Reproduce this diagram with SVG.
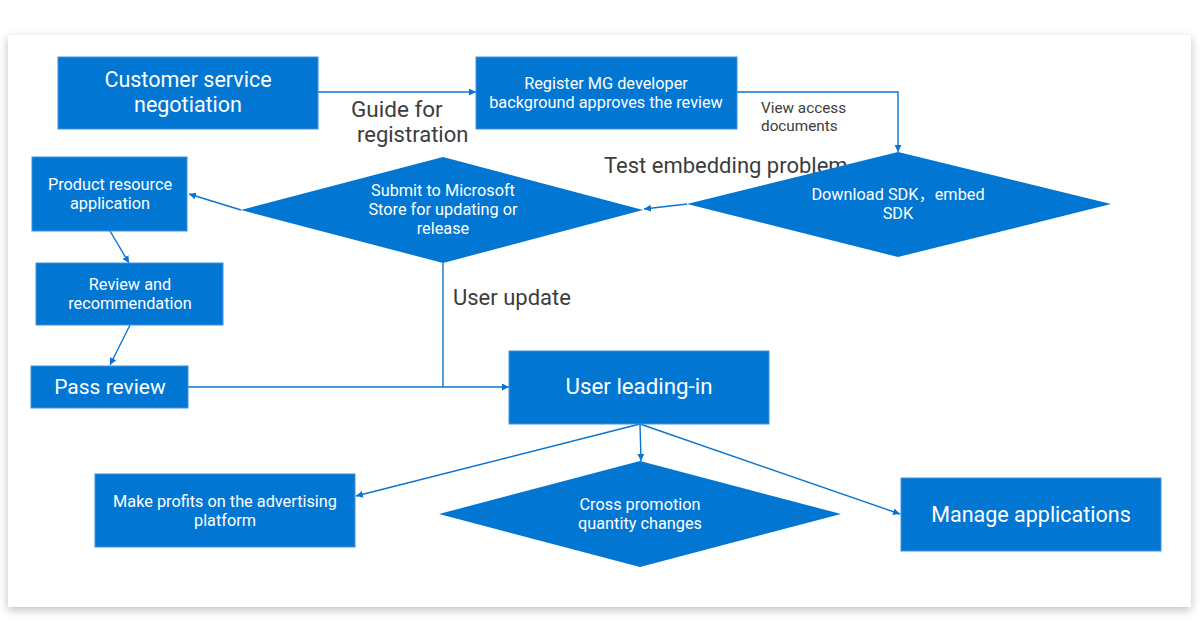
<svg xmlns="http://www.w3.org/2000/svg" width="1200" height="642" viewBox="0 0 1200 642">
<defs>
<filter id="sh" x="-5%" y="-5%" width="110%" height="115%">
<feDropShadow dx="0" dy="3" stdDeviation="5" flood-color="#000" flood-opacity="0.25"/>
</filter>
<marker id="ah" viewBox="0 0 10 10" refX="10" refY="5" markerWidth="7" markerHeight="7" markerUnits="userSpaceOnUse" orient="auto">
<path d="M0,0 L10,5 L0,10 z" fill="#0a74d0"/>
</marker>
<style>
.box{fill:#0176d3;stroke:#3f93e0;stroke-width:1}
.dia{fill:#0176d3}
.t{font-family:Roboto,"Noto Sans CJK SC",sans-serif;fill:#fff;text-anchor:middle}
.lb{font-family:Roboto,"Noto Sans CJK SC",sans-serif;fill:#3c3c3c}
.c{fill:none;stroke:#0a74d0;stroke-width:1.4}
</style>
</defs>
<rect width="1200" height="642" fill="#fff"/>
<rect x="8" y="35" width="1183" height="572" fill="#fff" filter="url(#sh)"/>

<g id="connectors">
<line class="c" x1="318" y1="92" x2="476" y2="92" marker-end="url(#ah)"/>
<polyline class="c" points="737,92 898,92 898,152" marker-end="url(#ah)"/>
<line class="c" x1="687" y1="204" x2="644" y2="209" marker-end="url(#ah)"/>
<line class="c" x1="241" y1="210" x2="189" y2="194" marker-end="url(#ah)"/>
<line class="c" x1="110" y1="231" x2="129" y2="263" marker-end="url(#ah)"/>
<line class="c" x1="130" y1="325" x2="110" y2="365" marker-end="url(#ah)"/>
<line class="c" x1="188" y1="387" x2="509" y2="387" marker-end="url(#ah)"/>
<line class="c" x1="443" y1="263" x2="443" y2="387"/>
<line class="c" x1="640" y1="424" x2="356" y2="496" marker-end="url(#ah)"/>
<line class="c" x1="640" y1="424" x2="641" y2="461" marker-end="url(#ah)"/>
<line class="c" x1="640" y1="424" x2="900" y2="514" marker-end="url(#ah)"/>
<text class="lb" x="351" y="117" font-size="22.5">Guide for</text>
<text class="lb" x="357" y="142" font-size="22">registration</text>
<text class="lb" x="761" y="113" font-size="15.3">View access</text>
<text class="lb" x="761" y="131" font-size="15.3">documents</text>
<text class="lb" x="604" y="173" font-size="22">Test embedding problem</text>
<text class="lb" x="453" y="305" font-size="22">User update</text>
</g>

<g id="csn">
<rect class="box" x="58" y="57" width="260" height="72"/>
<text class="t" x="188" y="87" font-size="21.5">Customer service</text>
<text class="t" x="188" y="112" font-size="21.5">negotiation</text>
</g>

<g id="register">
<rect class="box" x="476" y="57" width="261" height="72"/>
<text class="t" x="606" y="89" font-size="16.3">Register MG developer</text>
<text class="t" x="606" y="108" font-size="16.3">background approves the review</text>
</g>

<g id="download">
<polygon class="dia" points="898,152 1111,204 898,257 687,204"/>
<text class="t" x="898" y="200" font-size="16.3">Download SDK，embed</text>
<text class="t" x="898" y="219" font-size="16.3">SDK</text>
</g>

<g id="submit">
<polygon class="dia" points="443,157 643,210 443,263 241,210"/>
<text class="t" x="443" y="196" font-size="16.3">Submit to Microsoft</text>
<text class="t" x="443" y="215" font-size="16.3">Store for updating or</text>
<text class="t" x="443" y="234" font-size="16.3">release</text>
</g>

<g id="product">
<rect class="box" x="32" y="157" width="155" height="74"/>
<text class="t" x="110" y="190" font-size="16.3">Product resource</text>
<text class="t" x="110" y="209" font-size="16.3">application</text>
</g>

<g id="review">
<rect class="box" x="36" y="263" width="187" height="62"/>
<text class="t" x="130" y="290" font-size="16.3">Review and</text>
<text class="t" x="130" y="309" font-size="16.3">recommendation</text>
</g>

<g id="pass">
<rect class="box" x="31" y="366" width="157" height="42"/>
<text class="t" x="110" y="394" font-size="21">Pass review</text>
</g>

<g id="leading">
<rect class="box" x="509" y="351" width="260" height="73"/>
<text class="t" x="639" y="394" font-size="22.3">User leading-in</text>
</g>

<g id="profits">
<rect class="box" x="95" y="474" width="260" height="73"/>
<text class="t" x="225" y="507" font-size="16.3">Make profits on the advertising</text>
<text class="t" x="225" y="526" font-size="16.3">platform</text>
</g>

<g id="cross">
<polygon class="dia" points="640,461 841,514 640,567 439,514"/>
<text class="t" x="640" y="510" font-size="16.3">Cross promotion</text>
<text class="t" x="640" y="529" font-size="16.3">quantity changes</text>
</g>

<g id="manage">
<rect class="box" x="901" y="478" width="260" height="73"/>
<text class="t" x="1031" y="522" font-size="21.5">Manage applications</text>
</g>
</svg>
